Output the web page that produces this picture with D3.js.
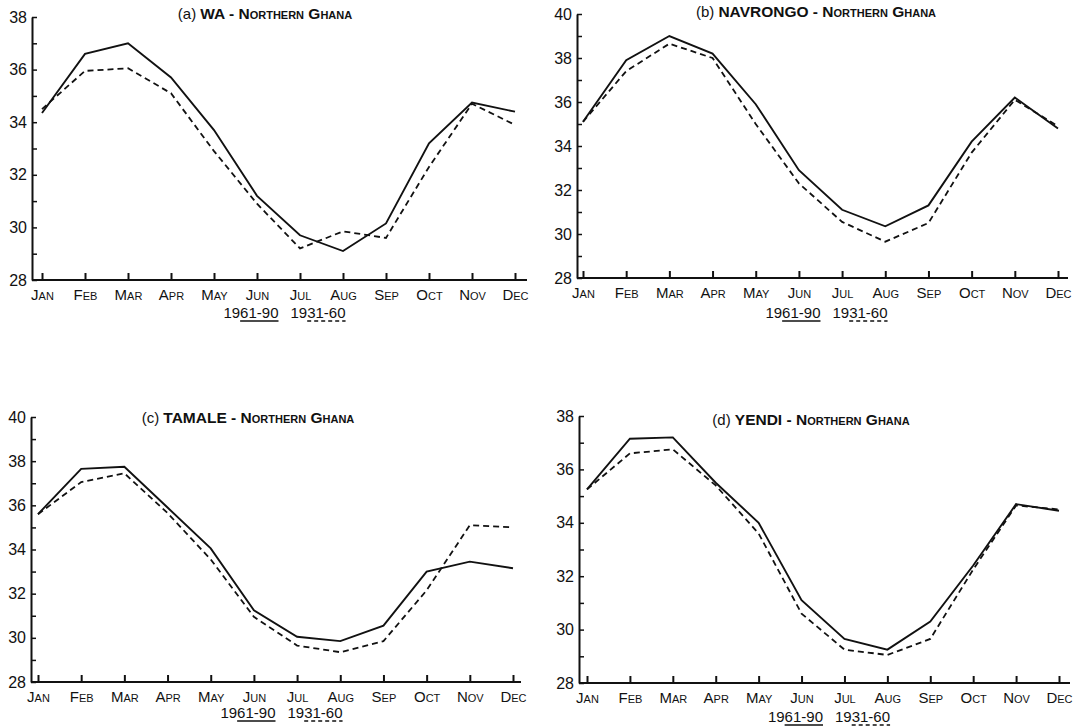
<!DOCTYPE html>
<html>
<head>
<meta charset="utf-8">
<script src="https://cdn.jsdelivr.net/npm/d3@7"></script>
<style>
  body { margin: 0; background: #fff; }
  text { font-family: "Liberation Sans", Arial, Helvetica, sans-serif; fill: #111; }
</style>
</head>
<body>
<svg id="chart" width="1090" height="728"></svg>
<script>
// month labels and the two normal periods
var months = ["Jan", "Feb", "Mar", "Apr", "May", "Jun", "Jul", "Aug", "Sep", "Oct", "Nov", "Dec"];
var periods = ["1961-90", "1931-60"];

// mean max temperature (deg C)
var waRecent  = [34.35, 36.6, 37.0, 35.7, 33.7, 31.2, 29.7, 29.1, 30.15, 33.2, 34.75, 34.4];
var waOld     = [34.5, 35.95, 36.05, 35.1, 32.9, 30.9, 29.2, 29.85, 29.6, 32.3, 34.7, 33.9];
var navRecent = [35.1, 37.9, 39.0, 38.2, 35.9, 32.9, 31.1, 30.35, 31.3, 34.2, 36.2, 34.8];
var navOld    = [35.1, 37.4, 38.65, 38.0, 35.0, 32.3, 30.55, 29.65, 30.5, 33.7, 36.1, 34.9];
var tamRecent = [35.6, 37.65, 37.75, 35.9, 34.05, 31.25, 30.05, 29.85, 30.55, 33.0, 33.45, 33.15];
var tamOld    = [35.6, 37.05, 37.45, 35.65, 33.55, 30.95, 29.65, 29.35, 29.85, 32.15, 35.1, 35.0];
var yenRecent = [35.25, 37.15, 37.2, 35.5, 34.0, 31.1, 29.65, 29.25, 30.3, 32.4, 34.7, 34.45];
var yenOld    = [35.25, 36.6, 36.75, 35.4, 33.6, 30.6, 29.25, 29.05, 29.65, 32.25, 34.65, 34.5];

var panels = [
  {tag: "(a) ", station: "WA",       recent: waRecent,  old: waOld,  yMax: 38,
   axisX: 32,  endX: 527,  jan: 42,  dec: 515,  top: 17,  bottom: 280, titleX: 265, titleY: 19,  legendY: 318},
  {tag: "(b) ", station: "NAVRONGO", recent: navRecent, old: navOld, yMax: 40,
   axisX: 577, endX: 1068, jan: 583, dec: 1058, top: 14,  bottom: 278, titleX: 816, titleY: 17,  legendY: 318},
  {tag: "(c) ", station: "TAMALE",   recent: tamRecent, old: tamOld, yMax: 40,
   axisX: 31,  endX: 521,  jan: 38,  dec: 513,  top: 417, bottom: 682, titleX: 248, titleY: 423, legendY: 718},
  {tag: "(d) ", station: "YENDI",    recent: yenRecent, old: yenOld, yMax: 38,
   axisX: 579, endX: 1070, jan: 587, dec: 1059, top: 416, bottom: 683, titleX: 811, titleY: 425, legendY: 722}
];

var svg = d3.select("#chart");

panels.forEach(function(p) {
  var g = svg.append("g");

  var x = d3.scalePoint().domain(months).range([p.jan, p.dec]);
  var y = d3.scaleLinear().domain([28, p.yMax]).range([p.bottom, p.top]);

  // y axis: small inward ticks every degree, labels on even values
  var yAx = d3.axisLeft(y)
    .tickValues(d3.range(28, p.yMax + 1))
    .tickSize(-5)
    .tickSizeOuter(0)
    .tickPadding(5)
    .tickFormat(function(d) { return d % 2 === 0 ? d : ""; });
  var yg = g.append("g")
    .attr("transform", "translate(" + p.axisX + ",0)")
    .call(yAx);
  yg.select(".domain").attr("stroke", "#111").attr("stroke-width", 2);
  yg.selectAll(".tick line").attr("stroke", "#111").attr("stroke-width", 1.5);
  yg.selectAll("text").attr("font-size", 16).attr("fill", "#111");

  // x axis: ticks pointing up, small-caps month names
  var xAx = d3.axisBottom(x).tickSize(-7).tickSizeOuter(0).tickPadding(9);
  var xg = g.append("g")
    .attr("transform", "translate(0," + p.bottom + ")")
    .call(xAx);
  xg.select(".domain").remove();
  xg.selectAll(".tick line").attr("stroke", "#111").attr("stroke-width", 2);
  xg.selectAll("text")
    .attr("font-size", 15)
    .attr("fill", "#111")
    .style("font-variant", "small-caps");
  g.append("line")
    .attr("x1", p.axisX).attr("x2", p.endX)
    .attr("y1", p.bottom).attr("y2", p.bottom)
    .attr("stroke", "#111").attr("stroke-width", 2);

  // the two series
  var line = d3.line()
    .x(function(d, i) { return x(months[i]); })
    .y(function(d) { return y(d); });

  g.append("path")
    .datum(p.old)
    .attr("d", line)
    .attr("fill", "none")
    .attr("stroke", "#111")
    .attr("stroke-width", 1.8)
    .attr("stroke-dasharray", "6,4");

  g.append("path")
    .datum(p.recent)
    .attr("d", line)
    .attr("fill", "none")
    .attr("stroke", "#111")
    .attr("stroke-width", 1.9);

  // title
  var t = g.append("text")
    .attr("x", p.titleX).attr("y", p.titleY)
    .attr("text-anchor", "middle");
  t.append("tspan").attr("font-size", 15).text(p.tag);
  t.append("tspan").attr("font-size", 15.5).attr("font-weight", "bold").text(p.station + " - ");
  t.append("tspan").attr("font-size", 15.5).attr("font-weight", "bold")
    .style("font-variant", "small-caps").text("Northern Ghana");

  // legend under the axis, with solid / dashed underlines
  var mid = (x("Jun") + x("Jul")) / 2 + 6;
  periods.forEach(function(label, i) {
    var tx = g.append("text")
      .attr("x", i === 0 ? mid - 6 : mid + 6)
      .attr("y", p.legendY)
      .attr("text-anchor", i === 0 ? "end" : "start")
      .attr("font-size", 15)
      .text(label);
    var node = tx.node();
    var w = node.getComputedTextLength();
    var start = i === 0 ? mid - 6 - w : mid + 6;
    var skip = node.getSubStringLength(0, 2);
    g.append("line")
      .attr("x1", start + skip).attr("x2", start + w)
      .attr("y1", p.legendY + 3).attr("y2", p.legendY + 3)
      .attr("stroke", "#111").attr("stroke-width", 1.3)
      .attr("stroke-dasharray", i === 0 ? null : "4,3");
  });
});
</script>
</body>
</html>
